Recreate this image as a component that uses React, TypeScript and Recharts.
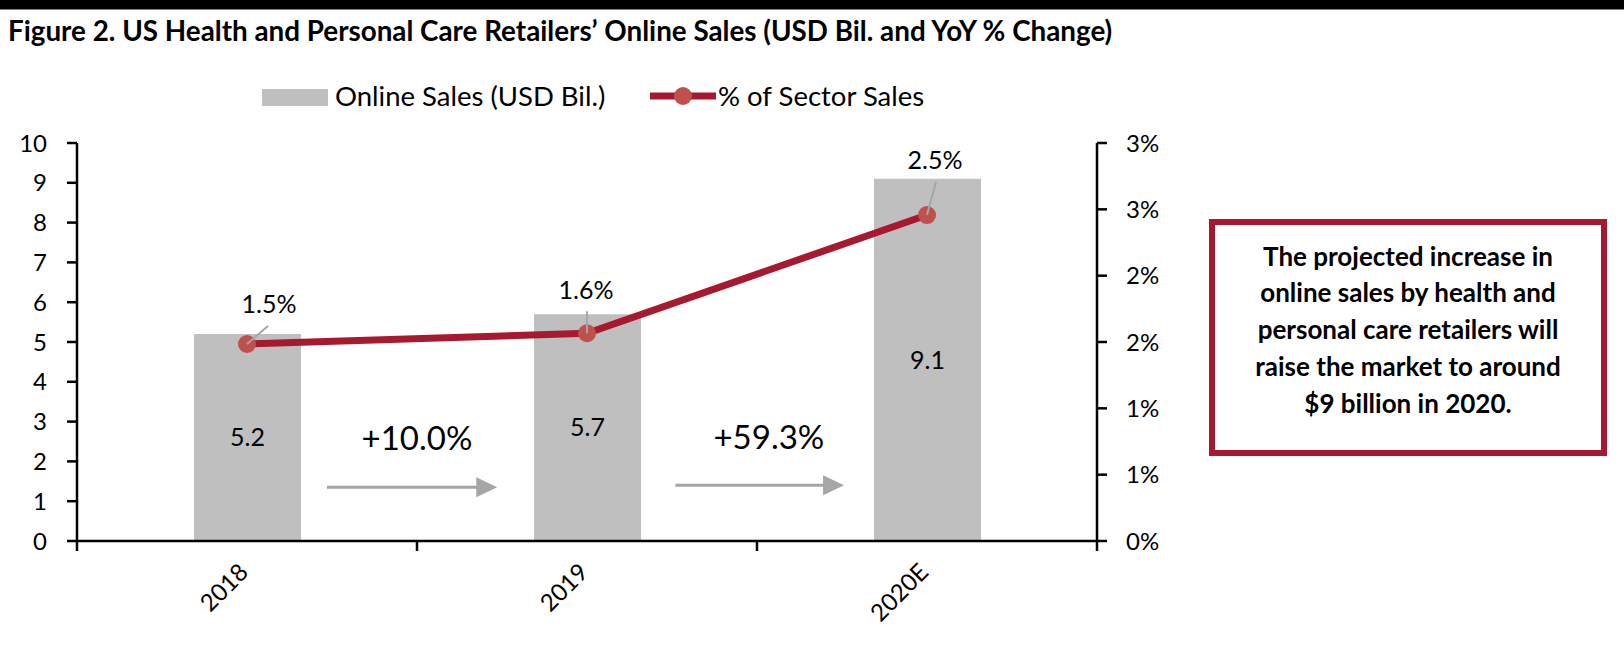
import React from 'react';
import {
  ComposedChart,
  Bar,
  Line,
  XAxis,
  YAxis,
  LabelList,
  Legend,
  ReferenceLine,
  ReferenceDot,
} from 'recharts';

// ---------- data ----------
const categories = ['2018', '2019', '2020E'];
const categorySlots = [0.5, 1.5, 2.5]; // slot centre of each category
const onlineSales = [5.2, 5.7, 9.1]; // USD Bil.
const sectorShare = [1.485, 1.566, 2.457]; // % of sector sales
const leftTicks = [0, 1, 2, 3, 4, 5, 6, 7, 8, 9, 10];
const rightTicks = [0, 0.5, 1, 1.5, 2, 2.5, 3];
const boundaryTicks = [0, 1, 2, 3];
const growthLabels = ['+10.0%', '+59.3%'];
const titleText =
  'Figure 2. US Health and Personal Care Retailers\u2019 Online Sales (USD Bil. and YoY % Change)';
const seriesNames = ['Online Sales (USD Bil.)', '% of Sector Sales'];
const boxLines = [
  'The projected increase in',
  'online sales by health and',
  'personal care retailers will',
  'raise the market to around',
  '$9 billion in 2020.',
];

// ---------- layout (annotation placement, in axis units) ----------
const growthArrowLayout = [
  { x1: 0.735, x2: 1.236, y: 1.35, tx: 1.0, ty: 2.28 },
  { x1: 1.76, x2: 2.256, y: 1.4, tx: 2.035, ty: 2.3 },
];
const shareLabelOffsets = [
  { lx: 21, ly: -18, tx: 22, ty: -31 },
  { lx: 0, ly: -22, tx: -1, ty: -34 },
  { lx: 9, ly: -33, tx: 8, ty: -46 },
];

const data = categories.map((c, i) => ({
  name: c,
  pos: categorySlots[i],
  sales: onlineSales[i],
  share: sectorShare[i],
}));

const FONT = "Lato, 'Open Sans', sans-serif";
const RED = '#A6192E';
const DOT = '#C0504D';
const BAR = '#BFBFBF';
const ARROW = '#A6A6A6';

const XTick = (props: any) => {
  const { x, y, payload } = props;
  const ax = x - 4;
  const ay = y + 18;
  return (
    <text
      x={ax}
      y={ay}
      transform={`rotate(-45 ${ax} ${ay})`}
      textAnchor="end"
      dominantBaseline="central"
      fontSize={24}
      fontFamily={FONT}
      fill="#000"
    >
      {payload.value}
    </text>
  );
};

const ShareLabel = (props: any) => {
  const { x, y, value, index } = props;
  const o = shareLabelOffsets[index];
  if (x == null || y == null || !o) return null;
  return (
    <g>
      <line x1={x} y1={y} x2={x + o.lx} y2={y + o.ly} stroke={ARROW} strokeWidth={2} />
      <text
        x={x + o.tx}
        y={y + o.ty}
        textAnchor="middle"
        fontSize={25}
        fontFamily={FONT}
        fill="#000"
      >
        {Number(value).toFixed(1)}%
      </text>
    </g>
  );
};

const ArrowShape = (props: any) => {
  const { x1, y1, x2, y2 } = props;
  if (x1 == null) return null;
  const head = 21;
  return (
    <g>
      <line x1={x1} y1={y1} x2={x2 - head + 1} y2={y2} stroke={ARROW} strokeWidth={3} />
      <polygon
        points={`${x2},${y2} ${x2 - head},${y2 - 10} ${x2 - head},${y2 + 10}`}
        fill={ARROW}
      />
    </g>
  );
};

const BoundaryTick = (props: any) => {
  const { x1, y1, y2 } = props;
  if (x1 == null) return null;
  const yb = Math.max(y1, y2);
  return <line x1={x1} y1={yb} x2={x1} y2={yb + 10} stroke="#000" strokeWidth={2.5} />;
};

const makeTextShape = (label: string) => (props: any) => {
  const { cx, cy } = props;
  if (cx == null) return null;
  return (
    <text x={cx} y={cy} textAnchor="middle" fontSize={33} fontFamily={FONT} fill="#000">
      {label}
    </text>
  );
};

const LegendContent = () => (
  <div
    style={{
      position: 'relative',
      width: 1200,
      height: 30,
      fontFamily: FONT,
      fontSize: 27.5,
      color: '#000',
      lineHeight: '30px',
    }}
  >
    <div
      style={{ position: 'absolute', left: 262, top: 8, width: 66, height: 17, background: BAR }}
    />
    <span style={{ position: 'absolute', left: 335, top: 0, whiteSpace: 'nowrap' }}>
      {seriesNames[0]}
    </span>
    <svg style={{ position: 'absolute', left: 648, top: 0 }} width={70} height={30}>
      <line x1={2} y1={15} x2={68} y2={15} stroke={RED} strokeWidth={7} />
      <circle cx={35} cy={15} r={9} fill={DOT} />
    </svg>
    <span style={{ position: 'absolute', left: 718, top: 0, whiteSpace: 'nowrap' }}>
      {seriesNames[1]}
    </span>
  </div>
);

export default function App() {
  return (
    <div
      style={{
        position: 'absolute',
        left: 0,
        top: 0,
        width: 1624,
        height: 646,
        background: '#fff',
        overflow: 'hidden',
      }}
    >
      <svg style={{ position: 'absolute', left: 0, top: 0 }} width={1624} height={646}>
        <rect x={0} y={0} width={1624} height={9.5} fill="#000" />
        <text x={8} y={41} fontSize={27.8} fontWeight="bold" fontFamily={FONT} fill="#000">
          {titleText}
        </text>
      </svg>
      <div style={{ position: 'absolute', left: 0, top: 0 }}>
        <ComposedChart
          width={1200}
          height={646}
          data={data}
          margin={{ top: 143, right: 0, bottom: 5, left: 0 }}
        >
          <XAxis
            xAxisId="cat"
            dataKey="name"
            height={100}
            axisLine={{ stroke: '#000', strokeWidth: 2.5 }}
            tickLine={false}
            tick={<XTick />}
            interval={0}
          />
          <XAxis
            xAxisId="grid"
            type="number"
            dataKey="pos"
            domain={[0, 3]}
            allowDataOverflow
            hide
          />
          <YAxis
            yAxisId="left"
            width={77}
            domain={[0, 10]}
            ticks={leftTicks}
            interval={0}
            axisLine={{ stroke: '#000', strokeWidth: 2.5 }}
            tickLine={{ stroke: '#000', strokeWidth: 2.5 }}
            tickSize={10}
            tickMargin={20}
            tick={{ fontSize: 24, fontFamily: FONT, fill: '#000' }}
          />
          <YAxis
            yAxisId="right"
            orientation="right"
            width={103}
            domain={[0, 3]}
            ticks={rightTicks}
            interval={0}
            tickFormatter={(v: number) => `${Math.round(v)}%`}
            axisLine={{ stroke: '#000', strokeWidth: 2.5 }}
            tickLine={{ stroke: '#000', strokeWidth: 2.5 }}
            tickSize={10}
            tickMargin={19}
            tick={{ fontSize: 24, fontFamily: FONT, fill: '#000', textAnchor: 'start' }}
          />
          <Legend
            layout="horizontal"
            verticalAlign="middle"
            align="center"
            content={<LegendContent />}
            wrapperStyle={{ top: 81, left: 0, width: 1200, height: 30 }}
          />
          {boundaryTicks.map((b) => (
            <ReferenceLine
              key={`bt-${b}`}
              xAxisId="grid"
              yAxisId="left"
              x={b}
              shape={BoundaryTick}
              ifOverflow="visible"
            />
          ))}
          <Bar
            xAxisId="cat"
            yAxisId="left"
            dataKey="sales"
            fill={BAR}
            barSize={107}
            isAnimationActive={false}
          >
            <LabelList
              dataKey="sales"
              position="center"
              fontSize={25}
              fontFamily={FONT}
              fill="#000"
              formatter={(v: any) => Number(v).toFixed(1)}
            />
          </Bar>
          {growthArrowLayout.map((a, i) => (
            <ReferenceLine
              key={`arrow-${i}`}
              xAxisId="grid"
              yAxisId="left"
              segment={[
                { x: a.x1, y: a.y },
                { x: a.x2, y: a.y },
              ]}
              shape={ArrowShape}
              ifOverflow="visible"
            />
          ))}
          {growthArrowLayout.map((a, i) => (
            <ReferenceDot
              key={`glabel-${i}`}
              xAxisId="grid"
              yAxisId="left"
              x={a.tx}
              y={a.ty}
              r={0}
              shape={makeTextShape(growthLabels[i])}
              ifOverflow="visible"
            />
          ))}
          <Line
            xAxisId="cat"
            yAxisId="right"
            dataKey="share"
            stroke={RED}
            strokeWidth={7}
            dot={{ r: 9, fill: DOT, stroke: 'none', strokeWidth: 0 }}
            activeDot={false}
            isAnimationActive={false}
          >
            <LabelList dataKey="share" content={ShareLabel} />
          </Line>
        </ComposedChart>
      </div>
      <div
        style={{
          position: 'absolute',
          left: 1209,
          top: 219,
          width: 398,
          height: 237,
          boxSizing: 'border-box',
          border: `6px solid ${RED}`,
          display: 'flex',
          alignItems: 'center',
          justifyContent: 'center',
          fontFamily: FONT,
          fontWeight: 'bold',
          fontSize: 26,
          lineHeight: '36.7px',
          textAlign: 'center',
          color: '#000',
          paddingBottom: 16,
        }}
      >
        <div>
          {boxLines.map((l, i) => (
            <div key={i} style={{ whiteSpace: 'nowrap' }}>
              {l}
            </div>
          ))}
        </div>
      </div>
    </div>
  );
}
